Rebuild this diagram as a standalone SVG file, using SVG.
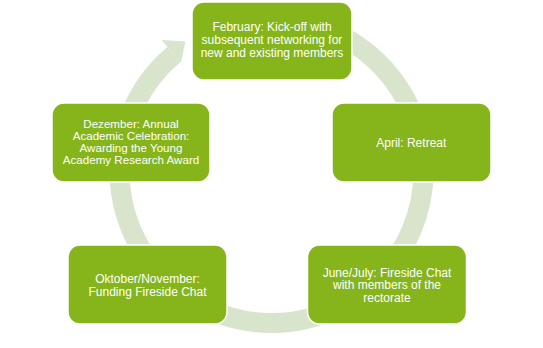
<svg xmlns="http://www.w3.org/2000/svg" width="543" height="348" viewBox="0 0 543 348">
<style>
.node{fill:#85b41b;stroke:#ffffff;stroke-width:1.5}
.ring{fill:none;stroke:#d8e4cb;stroke-width:20}
.head{fill:#d8e4cb}
text{font-family:"Liberation Sans",Arial,sans-serif;font-size:12px;fill:#ffffff;text-anchor:middle}
</style>
<rect width="543" height="348" fill="#ffffff"/>
<g id="connectors">
<path class="ring" d="M297.9,21.3 A152,152 0 1 1 173.8,54.6"/>
<polygon class="head" points="161.6,40 185.4,41.5 180.9,63"/>
</g>
<g id="node-february">
<rect class="node" x="192" y="2" width="160" height="78" rx="12"/>
<text x="272" y="31">February: Kick-off with</text>
<text x="272" y="44">subsequent networking for</text>
<text x="272" y="57">new and existing members</text>
</g>
<g id="node-april">
<rect class="node" x="332" y="103" width="159" height="79" rx="12"/>
<text x="411.3" y="146.7">April: Retreat</text>
</g>
<g id="node-june">
<rect class="node" x="307.5" y="245" width="159" height="79" rx="12"/>
<text x="387" y="276.5">June/July: Fireside Chat</text>
<text x="387" y="289">with members of the</text>
<text x="387" y="301.5">rectorate</text>
</g>
<g id="node-oktober">
<rect class="node" x="68" y="245" width="159" height="79" rx="12"/>
<text x="147.5" y="283.3">Oktober/November:</text>
<text x="147.5" y="296">Funding Fireside Chat</text>
</g>
<g id="node-dezember">
<rect class="node" x="52" y="103" width="158" height="79" rx="12"/>
<text x="131" y="127.5" style="font-size:11.6px">Dezember: Annual</text>
<text x="131" y="139.7" style="font-size:11.6px">Academic Celebration:</text>
<text x="131" y="151.9" style="font-size:11.6px">Awarding the Young</text>
<text x="131" y="164" style="font-size:11.6px">Academy Research Award</text>
</g>
</svg>
